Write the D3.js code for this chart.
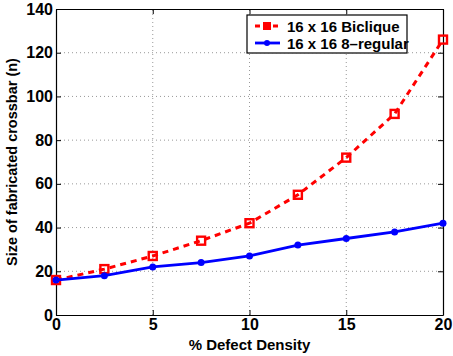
<!DOCTYPE html>
<html>
<head>
<meta charset="utf-8">
<script src="https://cdn.jsdelivr.net/npm/d3@7"></script>
<style>
body { margin: 0; background: #fff; }
text { font-family: "Liberation Sans", Arial, sans-serif; font-weight: bold; }
</style>
</head>
<body>
<div id="chart"></div>
<script>
// data
var density = [0, 2.5, 5, 7.5, 10, 12.5, 15, 17.5, 20];
var biclique = [16, 21, 27, 34, 42, 55, 72, 92, 126];
var regular = [16, 18, 22, 24, 27, 32, 35, 38, 42];
var xTicks = [0, 5, 10, 15, 20];
var yTicks = [0, 20, 40, 60, 80, 100, 120, 140];
var seriesNames = ["16 x 16 Biclique", "16 x 16 8\u2013regular"];

var W = 453, H = 356;
var m = {left: 56, right: 10, top: 9, bottom: 41};
var svg = d3.select("#chart").append("svg").attr("width", W).attr("height", H);

var x = d3.scaleLinear().domain([0, 20]).range([m.left, W - m.right]);
var y = d3.scaleLinear().domain([0, 140]).range([H - m.bottom, m.top]);

// grid
var grid = svg.append("g");
grid.selectAll("line.gx").data(xTicks.slice(1, -1)).enter().append("line")
  .attr("x1", x).attr("x2", x).attr("y1", y(0)).attr("y2", y(140))
  .style("stroke", "#999").style("stroke-width", 1).style("stroke-dasharray", "1 3");
grid.selectAll("line.gy").data(yTicks.slice(1, -1)).enter().append("line")
  .attr("y1", y).attr("y2", y).attr("x1", x(0)).attr("x2", x(20))
  .style("stroke", "#999").style("stroke-width", 1).style("stroke-dasharray", "1 3");

// axes, matlab style ticks inward
svg.append("g").attr("transform", "translate(0," + y(0) + ")")
  .call(d3.axisBottom(x).tickValues(xTicks).tickSizeInner(-5).tickSizeOuter(0).tickPadding(4))
svg.append("g").attr("transform", "translate(0," + y(140) + ")")
  .call(d3.axisTop(x).tickValues(xTicks).tickSizeInner(-5).tickSizeOuter(0).tickFormat(""));
svg.append("g").attr("transform", "translate(" + x(0) + ",0)")
  .call(d3.axisLeft(y).tickValues(yTicks).tickSizeInner(-5).tickSizeOuter(0).tickPadding(3));
svg.append("g").attr("transform", "translate(" + x(20) + ",0)")
  .call(d3.axisRight(y).tickValues(yTicks).tickSizeInner(-5).tickSizeOuter(0).tickFormat(""));
svg.selectAll(".domain").style("stroke", "#000").style("stroke-width", 1.2);
svg.selectAll(".tick line").style("stroke", "#000");
svg.selectAll(".tick text").style("font-size", "16px").style("font-family", "Liberation Sans, Arial, sans-serif").style("font-weight", "bold").attr("fill", "#000");

var line = d3.line().x(function(d) { return x(d[0]); }).y(function(d) { return y(d[1]); });
var bData = density.map(function(d, i) { return [d, biclique[i]]; });
var rData = density.map(function(d, i) { return [d, regular[i]]; });

// biclique red dashed with squares
svg.append("path").datum(bData).attr("d", line)
  .style("fill", "none").style("stroke", "#ff0000").style("stroke-width", 3).style("stroke-dasharray", "6 5");
svg.selectAll("rect.b").data(bData).enter().append("rect")
  .attr("x", function(d) { return x(d[0]) - 4; }).attr("y", function(d) { return y(d[1]) - 4; })
  .attr("width", 8).attr("height", 8)
  .style("fill", "none").style("stroke", "#ff0000").style("stroke-width", 2.4);

// regular blue solid with dots
svg.append("path").datum(rData).attr("d", line)
  .style("fill", "none").style("stroke", "#0000ff").style("stroke-width", 2.8);
svg.selectAll("circle.r").data(rData).enter().append("circle")
  .attr("cx", function(d) { return x(d[0]); }).attr("cy", function(d) { return y(d[1]); })
  .attr("r", 3.5).style("fill", "#0000ff");

// labels
svg.append("text").attr("x", (x(0) + x(20)) / 2).attr("y", 350)
  .attr("text-anchor", "middle").style("font-size", "15px").text("% Defect Density");
svg.append("text").attr("transform", "translate(17," + ((y(0) + y(140)) / 2) + ") rotate(-90)")
  .attr("text-anchor", "middle").style("font-size", "14.5px").text("Size of fabricated crossbar (n)");

// legend
var lg = svg.append("g").attr("transform", "translate(247,15)");
lg.append("rect").attr("width", 160).attr("height", 38)
  .style("fill", "#fff").style("stroke", "#000").style("stroke-width", 1.2);
lg.append("line").attr("x1", 8).attr("x2", 33).attr("y1", 11).attr("y2", 11)
  .style("stroke", "#ff0000").style("stroke-width", 3).style("stroke-dasharray", "5 4");
lg.append("rect").attr("x", 16).attr("y", 7).attr("width", 8).attr("height", 8).style("fill", "#ff0000");
lg.append("line").attr("x1", 8).attr("x2", 33).attr("y1", 28).attr("y2", 28)
  .style("stroke", "#0000ff").style("stroke-width", 2.8);
lg.append("circle").attr("cx", 20).attr("cy", 28).attr("r", 3).style("fill", "#0000ff");
lg.selectAll("text.l").data(seriesNames).enter().append("text")
  .attr("x", 40).attr("y", function(d, i) { return 17 + i * 17; })
  .style("font-size", "15px").text(String);
</script>
</body>
</html>
